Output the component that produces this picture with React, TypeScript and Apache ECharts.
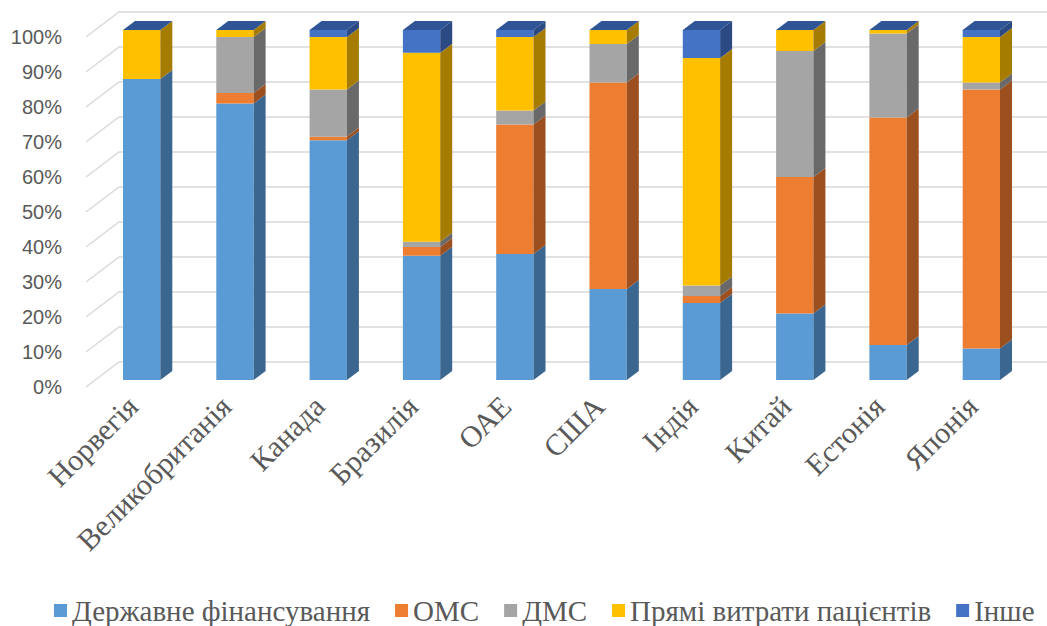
import React, { useEffect, useRef } from "react";
import * as echarts from "echarts";

const categories = ["Норвегія", "Великобританія", "Канада", "Бразилія", "ОАЕ", "США", "Індія", "Китай", "Естонія", "Японія"];
const seriesNames = ["Державне фінансування", "ОМС", "ДМС", "Прямі витрати пацієнтів", "Інше"];
const publicFunding = [86, 79, 68.5, 35.5, 36, 26, 22, 19, 10, 9];
const oms = [0, 3, 1, 2.5, 37, 59, 2, 39, 65, 74];
const dms = [0, 16, 13.5, 1.5, 4, 11, 3, 36, 24, 2];
const outOfPocket = [14, 2, 15, 54, 21, 4, 65, 6, 1, 13];
const other = [0, 0, 2, 6.5, 2, 0, 8, 0, 0, 2];
const yTicks = [0, 10, 20, 30, 40, 50, 60, 70, 80, 90, 100];

const frontColors = ["#5B9BD5", "#ED7D31", "#A5A5A5", "#FFC000", "#4472C4"];
const sideColors = ["#3A6690", "#9C4F1F", "#696969", "#A67C00", "#2B4A84"];
const topColor = "#2F5597";

const OX = 9, OY = -7; // offset of bar front face from axis front plane
const DX = 12, DY = -9; // bar depth
const WX = 33, WY = -25; // wall depth

export default function App() {
  const ref = useRef<HTMLDivElement>(null);
  useEffect(() => {
    if (!ref.current) return;
    const chart = echarts.init(ref.current, undefined, { renderer: "svg" });
    const all = [publicFunding, oms, dms, outOfPocket, other];
    const cum = categories.map(() => 0);
    const stacked = all.map((arr) =>
      arr.map((v, i) => {
        const s = cum[i];
        cum[i] += v;
        return [i, s, cum[i]];
      })
    );
    const barSeries = stacked.map((data, si) => ({
      type: "custom",
      name: seriesNames[si],
      itemStyle: { color: frontColors[si] },
      data,
      z: 3,
      renderItem: (params: any, api: any) => {
        const x = api.value(0), s = api.value(1), e = api.value(2);
        const p0 = api.coord([x, s]);
        const p1 = api.coord([x, e]);
        const bw = api.size([1, 0])[0] * 0.4;
        const l = p0[0] + OX - bw / 2;
        const r = p0[0] + OX + bw / 2;
        const b = p0[1] + OY;
        const t = p1[1] + OY;
        const children: any[] = [];
        if (b - t > 0.01) {
          children.push({
            type: "rect",
            shape: { x: l, y: t, width: r - l, height: b - t },
            style: { fill: frontColors[si] },
          });
          children.push({
            type: "polygon",
            shape: { points: [[r, t], [r + DX, t + DY], [r + DX, b + DY], [r, b]] },
            style: { fill: sideColors[si] },
          });
        }
        if (si === seriesNames.length - 1) {
          children.push({
            type: "polygon",
            shape: { points: [[l, t], [l + DX, t + DY], [r + DX, t + DY], [r, t]] },
            style: { fill: topColor },
          });
        }
        return { type: "group", children };
      },
    }));
    const gridSeries = {
      type: "custom",
      silent: true,
      z: 1,
      data: yTicks.map((v) => [0, v]),
      renderItem: (params: any, api: any) => {
        const y = api.coord([0, api.value(1)])[1];
        const gx = params.coordSys.x;
        return {
          type: "polyline",
          shape: { points: [[gx, y], [gx + WX, y + WY], [1047, y + WY]] },
          style: { stroke: "#D9D9D9", lineWidth: 1.5, fill: "none" },
        };
      },
    };
    chart.setOption({
      animation: false,
      backgroundColor: "#ffffff",
      grid: { left: 86, right: 28, top: 37, bottom: 239 },
      xAxis: {
        type: "category",
        data: categories,
        axisLine: { show: false },
        axisTick: { show: false },
        splitLine: { show: false },
        axisLabel: {
          rotate: 45,
          interval: 0,
          margin: 14,
          color: "#595959",
          fontFamily: "Liberation Serif",
          fontSize: 30,
        },
      },
      yAxis: {
        type: "value",
        min: 0,
        max: 100,
        interval: 10,
        axisLine: { show: false },
        axisTick: { show: false },
        splitLine: { show: false },
        axisLabel: {
          formatter: "{value}%",
          margin: 24,
          color: "#595959",
          fontFamily: "Liberation Sans",
          fontSize: 20,
        },
      },
      legend: {
        data: seriesNames,
        left: 49,
        top: 591,
        icon: "rect",
        itemWidth: 13,
        itemHeight: 13,
        itemGap: 25,
        textStyle: { color: "#595959", fontFamily: "Liberation Serif", fontSize: 29 },
      },
      series: [gridSeries, ...barSeries],
    });
    return () => chart.dispose();
  }, []);
  return (
    <div
      ref={ref}
      style={{ position: "fixed", left: 0, top: 0, width: 1047, height: 626 }}
    />
  );
}
